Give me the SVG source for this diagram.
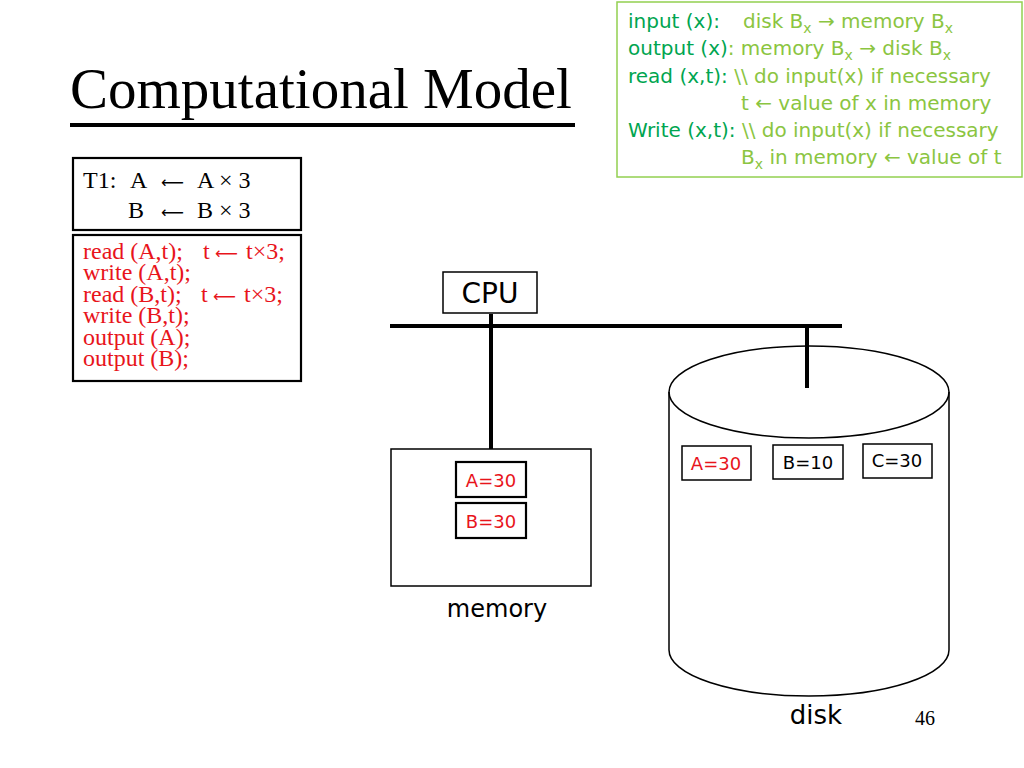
<svg xmlns="http://www.w3.org/2000/svg" width="1024" height="768" viewBox="0 0 1024 768">
<style>
.serif{font-family:"Liberation Serif","Times New Roman",serif;}
.sans{font-family:"DejaVu Sans","Verdana",sans-serif;}
.arw{font-family:"DejaVu Sans","Verdana",sans-serif;}
.dk{fill:#00a550;}
.lt{fill:#8bc541;}
.red{fill:#e8141b;}
.box{fill:#ffffff;stroke:#000000;stroke-width:1.5;}
.thickbox{fill:#ffffff;stroke:#000000;stroke-width:2.2;}
.wire{stroke:#000000;stroke-width:4;fill:none;}
.sub{font-size:14px;}
</style>
<rect width="1024" height="768" fill="#ffffff"/>

<g id="title">
<text class="serif" x="70" y="108" font-size="57" fill="#000">Computational Model</text>
<line x1="70" y1="125" x2="575" y2="125" stroke="#000" stroke-width="4"/>
</g>

<g id="ops-legend">
<rect x="617" y="2" width="405" height="175" fill="#ffffff" stroke="#92d050" stroke-width="1.5"/>
<g class="sans" font-size="20">
<text x="628" y="28"><tspan class="dk">input (x):</tspan><tspan class="lt" x="743">disk B</tspan><tspan class="lt sub" dy="5">x</tspan><tspan class="lt" dy="-5"> → memory B</tspan><tspan class="lt sub" dy="5">x</tspan></text>
<text x="628" y="55"><tspan class="dk">output (x)</tspan><tspan class="lt">: memory B</tspan><tspan class="lt sub" dy="5">x</tspan><tspan class="lt" dy="-5"> → disk B</tspan><tspan class="lt sub" dy="5">x</tspan></text>
<text x="628" y="83"><tspan class="dk">read (x,t):</tspan><tspan class="lt"> \\ do input(x) if necessary</tspan></text>
<text x="741" y="110" class="lt">t ← value of x in memory</text>
<text x="628" y="137"><tspan class="dk">Write (x,t):</tspan><tspan class="lt"> \\ do input(x) if necessary</tspan></text>
<text x="741" y="164"><tspan class="lt">B</tspan><tspan class="lt sub" dy="5">x</tspan><tspan class="lt" dy="-5"> in memory ← value of t</tspan></text>
</g>
</g>

<g id="t1-box">
<rect class="thickbox" x="73" y="158" width="228" height="72"/>
<text class="serif" font-size="24" fill="#000" x="83" y="188">T1:<tspan x="130">A</tspan><tspan class="arw" x="161" font-size="16">⟵</tspan><tspan x="197">A × 3</tspan><tspan x="128" y="218">B</tspan><tspan class="arw" x="161" font-size="16">⟵</tspan><tspan x="197">B × 3</tspan></text>
</g>

<g id="code-box">
<rect class="thickbox" x="73" y="235" width="228" height="146"/>
<text class="serif red" font-size="24" x="83" y="259">read (A,t);<tspan x="203">t</tspan><tspan class="arw" x="215" font-size="16">⟵</tspan><tspan x="246">t×3;</tspan><tspan x="83" y="280">write (A,t);</tspan><tspan x="83" y="302">read (B,t);</tspan><tspan x="201">t</tspan><tspan class="arw" x="213" font-size="16">⟵</tspan><tspan x="244">t×3;</tspan><tspan x="83" y="323">write (B,t);</tspan><tspan x="83" y="345">output (A);</tspan><tspan x="83" y="366">output (B);</tspan></text>
</g>

<g id="connectors">
<line class="wire" x1="390" y1="326" x2="842" y2="326"/>
<line class="wire" x1="491" y1="314" x2="491" y2="449"/>
<line class="wire" x1="807" y1="326" x2="807" y2="388"/>
</g>

<g id="cpu">
<rect class="box" x="443" y="272" width="94" height="41"/>
<text class="sans" x="490" y="303" font-size="28" text-anchor="middle" fill="#000">CPU</text>
</g>

<g id="memory">
<rect class="box" x="391" y="449" width="200" height="137"/>
<text class="sans" x="497" y="617" font-size="24" text-anchor="middle" fill="#000">memory</text>
</g>

<g id="mem-A">
<rect class="thickbox" x="456" y="462" width="70" height="35"/>
<text class="sans red" x="491" y="487" font-size="18" text-anchor="middle">A=30</text>
</g>

<g id="mem-B">
<rect class="thickbox" x="456" y="503" width="70" height="35"/>
<text class="sans red" x="491" y="528" font-size="18" text-anchor="middle">B=30</text>
</g>

<g id="disk">
<path d="M669,392 L669,650 A140,46 0 0 0 949,650 L949,392" fill="#ffffff" stroke="#000" stroke-width="1.5"/>
<ellipse cx="809" cy="392" rx="140" ry="46" fill="none" stroke="#000" stroke-width="1.5"/>
<text class="sans" x="816" y="724" font-size="26" text-anchor="middle" fill="#000">disk</text>
</g>

<g id="disk-A">
<rect class="box" x="682" y="446" width="69" height="34"/>
<text class="sans red" x="716" y="470" font-size="18" text-anchor="middle">A=30</text>
</g>

<g id="disk-B">
<rect class="box" x="773" y="445" width="70" height="34"/>
<text class="sans" x="808" y="469" font-size="18" text-anchor="middle" fill="#000">B=10</text>
</g>

<g id="disk-C">
<rect class="box" x="863" y="444" width="69" height="34"/>
<text class="sans" x="897" y="467" font-size="18" text-anchor="middle" fill="#000">C=30</text>
</g>

<g id="page-number">
<text class="serif" x="915" y="725" font-size="20" fill="#000">46</text>
</g>
</svg>
